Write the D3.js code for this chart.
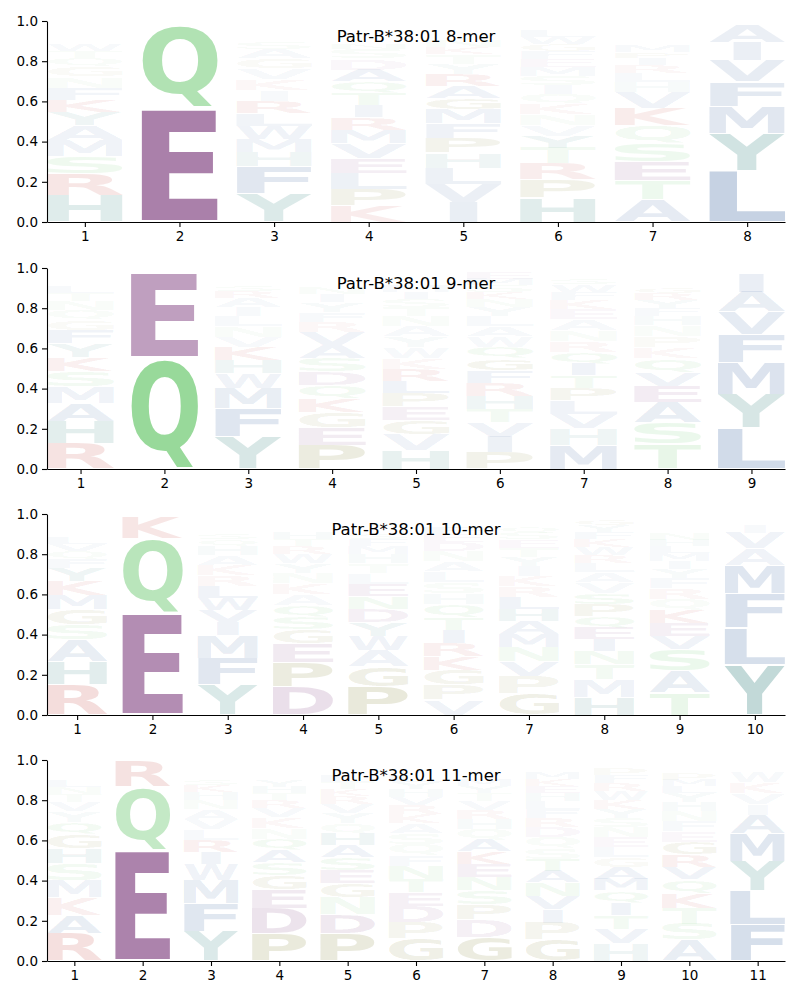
<!DOCTYPE html>
<html><head><meta charset="utf-8">
<script src="https://cdn.jsdelivr.net/npm/d3@7"></script>
<style>body{margin:0;background:#fff} svg{display:block}</style>
</head><body><svg id="chart" width="800" height="1000"></svg>
<script>
// ---------------- data ----------------
const titles = ["Patr-B*38:01 8-mer","Patr-B*38:01 9-mer","Patr-B*38:01 10-mer","Patr-B*38:01 11-mer"];
const yTicks = [0.0,0.2,0.4,0.6,0.8,1.0];

const logo8 = [
 [["H",.131],["R",.109],["S",.086],["M",.077],["A",.077],["Y",.066],["K",.062],["F",.06],["N",.055],["G",.05],["Q",.04],["T",.035],["W",.03],["E",.025],["L",.022],["V",.02],["P",.018],["D",.015],["I",.012],["C",.01]],
 [["E",.565],["Q",.415],["K",.006],["R",.005],["D",.004],["H",.003],["N",.002]],
 [["Y",.142],["F",.134],["H",.071],["M",.066],["W",.065],["L",.061],["R",.06],["I",.055],["K",.055],["V",.054],["G",.05],["A",.045],["S",.035],["T",.025],["N",.02],["Q",.018],["E",.015],["P",.012],["D",.01],["C",.007]],
 [["K",.083],["P",.082],["L",.078],["E",.075],["V",.074],["M",.066],["R",.063],["I",.061],["T",.058],["Q",.058],["A",.058],["D",.056],["S",.05],["N",.028],["G",.025],["H",.022],["F",.02],["W",.018],["Y",.015],["C",.01]],
 [["I",.098],["V",.091],["L",.08],["H",.075],["P",.074],["F",.071],["M",.07],["G",.058],["A",.058],["R",.058],["Y",.05],["T",.05],["K",.035],["N",.03],["Q",.025],["S",.022],["E",.02],["W",.015],["D",.012],["C",.008]],
 [["H",.123],["P",.088],["R",.08],["T",.078],["Y",.058],["V",.055],["N",.055],["K",.05],["Q",.05],["I",.045],["S",.045],["M",.045],["E",.04],["F",.04],["G",.035],["W",.035],["L",.03],["A",.025],["D",.015],["C",.01]],
 [["A",.111],["T",.096],["E",.095],["S",.09],["Q",.088],["K",.088],["V",.079],["H",.05],["L",.045],["R",.04],["I",.035],["P",.03],["M",.03],["F",.025],["N",.025],["G",.02],["Y",.015],["W",.012],["D",.008],["C",.005]],
 [["L",.255],["Y",.187],["M",.132],["F",.124],["V",.104],["I",.091],["A",.091],["W",.006],["T",.004],["H",.003],["S",.003]]
];
const logo9 = [
 [["R",.125],["H",.113],["A",.091],["M",.082],["S",.075],["K",.07],["Y",.07],["F",.066],["G",.05],["Q",.048],["N",.045],["T",.04],["L",.03],["V",.025],["E",.02],["P",.015],["W",.01],["D",.01],["I",.007],["C",.005]],
 [["Q",.554],["E",.428],["K",.006],["D",.004],["R",.003],["H",.003],["N",.002]],
 [["Y",.16],["F",.141],["M",.1],["W",.076],["H",.066],["K",.065],["V",.05],["N",.05],["L",.05],["I",.045],["A",.045],["R",.035],["S",.03],["T",.025],["Q",.018],["G",.015],["P",.01],["D",.007],["C",.005]],
 [["P",.12],["E",.085],["G",.078],["K",.068],["Q",.068],["D",.066],["S",.066],["A",.066],["V",.065],["R",.05],["F",.048],["Y",.048],["I",.042],["N",.03],["T",.025],["H",.022],["M",.018],["W",.013],["L",.012],["C",.01]],
 [["H",.095],["V",.078],["G",.07],["E",.068],["P",.066],["L",.06],["R",.058],["K",.056],["W",.055],["Y",.054],["A",.052],["N",.05],["T",.045],["S",.04],["I",.035],["M",.03],["Q",.025],["F",.025],["D",.02],["C",.01]],
 [["P",.081],["I",.079],["V",.071],["T",.066],["H",.066],["R",.066],["F",.063],["G",.058],["Q",.058],["W",.05],["A",.05],["L",.05],["Y",.045],["N",.04],["K",.035],["S",.035],["M",.03],["E",.03],["D",.015],["C",.01]],
 [["M",.119],["H",.082],["V",.072],["L",.068],["P",.063],["T",.06],["I",.06],["Q",.058],["R",.055],["N",.055],["A",.055],["E",.05],["K",.045],["F",.04],["W",.035],["S",.03],["G",.02],["Y",.015],["D",.01],["C",.005]],
 [["T",.125],["S",.105],["A",.1],["E",.083],["V",.07],["Q",.066],["K",.055],["P",.055],["N",.055],["H",.045],["F",.04],["Y",.04],["R",.035],["G",.03],["L",.025],["M",.02],["W",.015],["D",.012],["I",.01],["C",.005]],
 [["L",.205],["Y",.165],["M",.158],["F",.14],["V",.113],["A",.1],["I",.095],["W",.01],["T",.005],["S",.004],["H",.003]]
];
const logo10 = [
 [["R",.15],["H",.116],["A",.11],["S",.075],["G",.073],["M",.071],["K",.07],["Y",.066],["F",.045],["Q",.04],["V",.035],["L",.03],["N",.025],["T",.025],["E",.02],["W",.015],["I",.012],["P",.01],["D",.008],["C",.004]],
 [["E",.506],["Q",.373],["K",.11],["R",.004],["D",.003],["H",.002]],
 [["Y",.15],["F",.133],["M",.112],["I",.066],["V",.062],["W",.06],["L",.058],["R",.055],["K",.05],["A",.05],["H",.045],["Q",.035],["S",.03],["T",.025],["N",.02],["E",.015],["G",.01],["P",.008],["D",.005],["C",.003]],
 [["D",.141],["P",.12],["E",.095],["G",.07],["S",.06],["Q",.058],["A",.056],["K",.055],["N",.05],["Y",.048],["W",.045],["R",.04],["T",.035],["H",.03],["V",.025],["L",.02],["F",.018],["M",.015],["I",.01],["C",.005]],
 [["P",.14],["G",.1],["A",.08],["W",.072],["Y",.07],["D",.065],["N",.062],["E",.06],["L",.055],["T",.05],["H",.045],["M",.04],["F",.035],["S",.03],["Q",.025],["K",.02],["R",.018],["V",.015],["I",.01],["C",.005]],
 [["V",.076],["P",.075],["G",.074],["K",.068],["R",.066],["I",.065],["T",.063],["Q",.062],["H",.055],["S",.055],["L",.055],["A",.05],["N",.05],["D",.045],["E",.04],["F",.035],["M",.025],["Y",.02],["W",.015],["C",.01]],
 [["G",.105],["P",.088],["V",.072],["N",.07],["M",.066],["A",.065],["H",.06],["L",.058],["R",.055],["K",.05],["I",.05],["Y",.048],["T",.045],["E",.04],["S",.035],["Q",.03],["F",.025],["W",.02],["D",.015],["C",.01]],
 [["H",.09],["M",.087],["T",.075],["N",.065],["I",.058],["E",.058],["Q",.058],["P",.058],["S",.058],["V",.055],["A",.05],["L",.045],["R",.04],["W",.04],["K",.04],["F",.035],["Y",.03],["G",.03],["D",.02],["C",.01]],
 [["T",.112],["A",.11],["S",.105],["V",.065],["E",.065],["K",.065],["Q",.055],["R",.055],["F",.05],["Y",.045],["I",.04],["M",.04],["L",.035],["H",.03],["N",.03],["G",.025],["P",.025],["W",.02],["D",.015],["C",.01]],
 [["Y",.25],["L",.182],["F",.17],["M",.143],["A",.082],["V",.078],["I",.04],["W",.015],["T",.012],["H",.01],["S",.008],["C",.005],["Q",.005]]
];
const logo11 = [
 [["R",.138],["A",.09],["K",.088],["M",.085],["S",.083],["H",.075],["G",.07],["Q",.06],["Y",.055],["V",.045],["T",.04],["N",.035],["L",.03],["E",.025],["F",.02],["P",.015],["I",.015],["W",.012],["D",.01],["C",.005]],
 [["E",.552],["Q",.315],["R",.128],["K",.003],["D",.002]],
 [["Y",.146],["F",.138],["M",.118],["W",.08],["I",.06],["R",.06],["L",.055],["V",.05],["A",.05],["N",.045],["H",.04],["K",.035],["S",.03],["T",.025],["Q",.02],["E",.015],["G",.012],["P",.01],["D",.008],["C",.005]],
 [["P",.138],["D",.125],["E",.095],["G",.07],["S",.062],["A",.06],["Q",.058],["N",.055],["K",.05],["V",.048],["R",.04],["T",.035],["H",.03],["Y",.03],["L",.025],["F",.02],["M",.02],["W",.015],["I",.012],["C",.008]],
 [["P",.135],["D",.095],["N",.085],["G",.07],["E",.066],["S",.062],["A",.062],["H",.06],["Q",.05],["Y",.05],["V",.045],["R",.04],["K",.035],["T",.035],["L",.03],["M",.025],["F",.02],["I",.015],["W",.01],["C",.008]],
 [["G",.113],["P",.08],["D",.078],["E",.07],["T",.065],["N",.065],["F",.055],["Q",.055],["S",.055],["A",.05],["K",.045],["R",.045],["V",.04],["H",.04],["Y",.035],["L",.03],["M",.025],["W",.02],["I",.015],["C",.01]],
 [["G",.12],["D",.085],["P",.075],["S",.07],["N",.068],["E",.065],["K",.06],["A",.058],["Q",.055],["H",.05],["R",.045],["V",.045],["T",.04],["Y",.035],["M",.03],["L",.025],["F",.025],["W",.02],["I",.015],["C",.01]],
 [["G",.105],["P",.085],["I",.068],["V",.066],["N",.065],["A",.06],["T",.058],["S",.055],["Q",.055],["D",.05],["R",.045],["F",.045],["L",.04],["H",.04],["E",.035],["K",.035],["M",.03],["Y",.025],["W",.02],["C",.01]],
 [["H",.088],["V",.072],["T",.07],["I",.06],["Q",.06],["M",.058],["A",.058],["G",.05],["L",.05],["E",.05],["N",.05],["S",.045],["Y",.045],["K",.045],["W",.045],["R",.04],["F",.04],["P",.035],["D",.02],["C",.01]],
 [["A",.105],["S",.08],["T",.078],["K",.075],["Q",.068],["V",.062],["R",.062],["G",.06],["E",.055],["F",.05],["N",.05],["H",.045],["Y",.045],["L",.035],["M",.03],["P",.03],["D",.025],["I",.02],["W",.015],["C",.01]],
 [["F",.182],["L",.166],["Y",.149],["M",.138],["A",.092],["I",.055],["V",.055],["K",.055],["W",.05],["H",.02],["T",.015],["S",.01],["R",.008],["Q",.005]]
];
const logos = [logo8, logo9, logo10, logo11];

// ---------------- styles ----------------
const groupColor = {
  blue:"rgb(30,77,146)", teal:"rgb(10,105,100)", red:"rgb(180,30,20)",
  purple:"rgb(105,30,105)", green:"rgb(68,186,73)", olive:"rgb(100,100,0)", gold:"rgb(140,120,0)"
};
const letterGroup = {A:"blue",V:"blue",L:"blue",I:"blue",M:"blue",F:"blue",W:"blue",
  Y:"teal",H:"teal",R:"red",K:"red",E:"purple",D:"purple",Q:"green",S:"green",T:"green",N:"green",
  P:"olive",G:"olive",C:"gold"};

const svg = d3.select("#chart");
const panelTop = [21, 268, 514, 760], plotH = 201, left = 47, right = 785;
const glyphW = 0.8, vpad = 0.04;

const ctx = document.createElement("canvas").getContext("2d");
const FS = 100;
ctx.font = `bold ${FS}px "DejaVu Sans"`;
const cache = {};
function ink(ch){
  if(!cache[ch]){ const m = ctx.measureText(ch);
    cache[ch] = {l:m.actualBoundingBoxLeft, r:m.actualBoundingBoxRight, a:m.actualBoundingBoxAscent, d:m.actualBoundingBoxDescent}; }
  return cache[ch];
}
const eW = ink("E").l + ink("E").r;

logos.forEach((cols, pi) => {
  const top = panelTop[pi], bottom = top + plotH, n = cols.length;
  const x = d3.scaleLinear().domain([0.6, n + 0.4]).range([left, right]);
  const y = d3.scaleLinear().domain([0, 1]).range([bottom, top]);
  const g = svg.append("g");
  cols.forEach((col, ci) => {
    const p = ci + 1;
    const sorted = col.slice().sort((a, b) => b[1] - a[1]);
    let cum = 0;
    sorted.forEach(([ch, v]) => {
      const y0 = cum, y1 = cum + v; cum = y1;
      const x0 = x(p - glyphW/2), x1 = x(p + glyphW/2);
      const bt = y(y1), bb = y(y0), bw = x1 - x0, bh = bb - bt;
      const m = ink(ch), iw = m.l + m.r, ih = m.a + m.d;
      const gh = bh * (1 - vpad);
      const sx = Math.min(bw / iw, bw / eW), gw = iw * sx, sy = gh / ih;
      const gx = x0 + (bw - gw) / 2, gy = bt + (bh - gh) / 2;
      g.append("text")
        .attr("transform", `translate(${gx},${gy}) scale(${sx},${sy}) translate(${m.l},${m.a})`)
        .attr("font-family", '"DejaVu Sans"').attr("font-weight", "bold").attr("font-size", FS)
        .attr("fill", groupColor[letterGroup[ch]]).attr("fill-opacity", Math.min(1, v))
        .text(ch);
    });
  });
  const ya = d3.axisLeft(y).tickValues(yTicks).tickFormat(d3.format(".1f")).tickSize(5).tickPadding(4).tickSizeOuter(0);
  const xa = d3.axisBottom(x).tickValues(d3.range(1, n + 1)).tickFormat(d3.format("d")).tickSize(5).tickPadding(4).tickSizeOuter(0);
  const ay = g.append("g").attr("transform", `translate(${left},0)`).call(ya);
  const ax = g.append("g").attr("transform", `translate(0,${bottom})`).call(xa);
  [ay, ax].forEach(a => {
    a.attr("font-family", '"DejaVu Sans"').attr("font-size", 13.5);
    a.selectAll("path,line").attr("stroke", "#000").attr("stroke-width", 1.1);
    a.selectAll("text").attr("fill", "#000");
  });
  g.append("text").attr("x", (left + right) / 2).attr("y", top + 21)
    .attr("text-anchor", "middle").attr("font-family", '"DejaVu Sans"').attr("font-size", 16.5)
    .attr("fill", "#000").text(titles[pi]);
});
</script></body></html>
